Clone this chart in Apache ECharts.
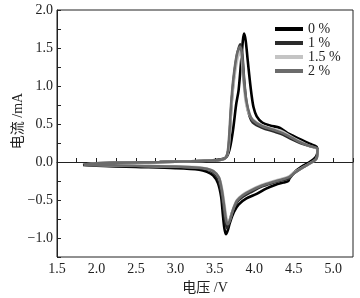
<!DOCTYPE html>
<html>
<head>
<meta charset="utf-8">
<script src="https://cdn.jsdelivr.net/npm/echarts@6/dist/echarts.min.js"></script>
<style>
  html, body { margin: 0; padding: 0; background: #fff; }
  #chart { width: 360px; height: 298px; }
</style>
</head>
<body>
<div id="chart"></div>
<script>
// 图例名称
const seriesNames = ['0 %', '1 %', '1.5 %', '2 %']
const seriesColors = ['#000000', '#2b2b2b', '#c4c4c4', '#6b6b6b']

// 循环伏安曲线 [电压 V, 电流 mA]，先正扫再回扫
const loop0 = [
  [1.83, -0.04], [1.95, -0.02], [2.3, -0.01], [2.8, 0.0], [3.2, 0.01], [3.45, 0.02], [3.58, 0.035],
  [3.65, 0.07], [3.69, 0.18], [3.73, 0.42], [3.77, 0.76], [3.8, 0.94], [3.83, 1.29], [3.855, 1.6],
  [3.87, 1.69], [3.89, 1.6], [3.915, 1.35], [3.94, 1.1], [3.965, 0.88], [3.99, 0.72], [4.03, 0.6],
  [4.1, 0.52], [4.2, 0.48], [4.32, 0.45], [4.42, 0.38], [4.5, 0.34], [4.6, 0.29], [4.7, 0.24],
  [4.79, 0.2], [4.8, 0.14],
  [4.78, 0.07], [4.7, 0.0], [4.6, -0.06], [4.5, -0.14], [4.45, -0.2], [4.43, -0.25], [4.37, -0.27],
  [4.27, -0.3], [4.15, -0.35], [4.03, -0.42], [3.9, -0.48], [3.8, -0.56], [3.74, -0.66], [3.69, -0.8],
  [3.66, -0.91], [3.64, -0.95], [3.62, -0.87], [3.6, -0.68], [3.58, -0.46], [3.54, -0.28], [3.48, -0.18],
  [3.4, -0.13], [3.3, -0.1], [3.0, -0.08], [2.5, -0.065], [2.0, -0.05], [1.83, -0.04]
]
const loop1 = [
  [1.84, -0.035], [1.95, -0.02], [2.3, -0.01], [2.8, 0.0], [3.2, 0.01], [3.45, 0.02], [3.58, 0.03],
  [3.64, 0.06], [3.67, 0.15], [3.69, 0.4], [3.71, 0.75], [3.74, 1.1], [3.78, 1.4], [3.82, 1.55],
  [3.845, 1.45], [3.87, 1.1], [3.9, 0.78], [3.94, 0.6], [3.98, 0.52], [4.1, 0.45], [4.25, 0.4],
  [4.36, 0.36], [4.47, 0.3], [4.58, 0.25], [4.7, 0.21], [4.8, 0.17],
  [4.79, 0.06], [4.7, -0.02], [4.6, -0.08], [4.5, -0.15], [4.44, -0.22], [4.35, -0.24], [4.25, -0.27],
  [4.1, -0.32], [3.95, -0.4], [3.85, -0.46], [3.78, -0.53], [3.72, -0.66], [3.68, -0.8], [3.655, -0.87],
  [3.635, -0.8], [3.61, -0.6], [3.58, -0.38], [3.54, -0.22], [3.48, -0.14], [3.4, -0.1], [3.3, -0.08],
  [3.0, -0.065], [2.5, -0.055], [2.0, -0.045], [1.84, -0.035]
]
const loop15 = [
  [1.84, -0.035], [1.95, -0.02], [2.3, -0.01], [2.8, 0.0], [3.2, 0.01], [3.45, 0.02], [3.58, 0.03],
  [3.64, 0.06], [3.67, 0.15], [3.69, 0.4], [3.71, 0.72], [3.74, 1.05], [3.78, 1.33], [3.815, 1.45],
  [3.84, 1.35], [3.865, 1.05], [3.89, 0.8], [3.93, 0.64], [3.98, 0.56], [4.1, 0.48], [4.25, 0.43],
  [4.36, 0.4], [4.47, 0.33], [4.58, 0.27], [4.7, 0.21], [4.8, 0.16],
  [4.79, 0.05], [4.7, -0.02], [4.6, -0.08], [4.5, -0.14], [4.44, -0.19], [4.35, -0.22], [4.25, -0.25],
  [4.1, -0.3], [3.95, -0.37], [3.85, -0.43], [3.78, -0.5], [3.73, -0.62], [3.69, -0.75], [3.665, -0.8],
  [3.645, -0.73], [3.62, -0.55], [3.59, -0.35], [3.55, -0.2], [3.48, -0.12], [3.4, -0.09], [3.3, -0.07],
  [3.0, -0.06], [2.5, -0.05], [2.0, -0.04], [1.84, -0.035]
]
const loop2 = [
  [1.84, -0.035], [1.95, -0.02], [2.3, -0.01], [2.8, 0.0], [3.2, 0.01], [3.45, 0.02], [3.58, 0.03],
  [3.64, 0.06], [3.665, 0.15], [3.685, 0.4], [3.705, 0.75], [3.735, 1.1], [3.78, 1.42], [3.82, 1.52],
  [3.845, 1.4], [3.87, 1.05], [3.9, 0.8], [3.94, 0.63], [3.98, 0.55], [4.1, 0.47], [4.25, 0.42],
  [4.36, 0.38], [4.47, 0.32], [4.58, 0.26], [4.7, 0.21], [4.8, 0.17],
  [4.79, 0.05], [4.7, -0.02], [4.6, -0.08], [4.5, -0.15], [4.44, -0.2], [4.35, -0.23], [4.25, -0.26],
  [4.1, -0.31], [3.95, -0.38], [3.85, -0.44], [3.78, -0.51], [3.73, -0.63], [3.69, -0.77], [3.66, -0.82],
  [3.64, -0.75], [3.615, -0.56], [3.585, -0.35], [3.55, -0.2], [3.48, -0.12], [3.4, -0.09], [3.3, -0.075],
  [3.0, -0.06], [2.5, -0.05], [2.0, -0.04], [1.84, -0.035]
]
const loops = [loop0, loop1, loop15, loop2]

const serif = '"Liberation Serif", "Noto Sans CJK SC", serif'

// 只在 0.5 的整数倍处显示刻度标签
function tickLabel(v) {
  const k = Math.round(v * 4)
  if (k % 2 !== 0) return ''
  return v.toFixed(1).replace('-', '\u2212')
}

const axisCommon = {
  type: 'value',
  interval: 0.25,
  splitLine: { show: false },
  axisLine: { show: true, lineStyle: { color: '#222', width: 1 } },
  axisTick: { show: true, inside: true, length: 4, lineStyle: { color: '#222' } },
  axisLabel: { color: '#222', fontFamily: serif, fontSize: 14, formatter: tickLabel },
  nameLocation: 'middle',
  nameMoveOverlap: false,
  nameTextStyle: { color: '#222', fontFamily: serif, fontSize: 14 },
}

const chart = echarts.init(document.getElementById('chart'))
chart.setOption({
  animation: false,
  backgroundColor: '#fff',
  grid: {
    left: 57, top: 10, right: 7, bottom: 41,
    containLabel: false, outerBoundsMode: 'none',
    show: true, borderColor: '#222', borderWidth: 1,
  },
  xAxis: Object.assign({}, axisCommon, {
    min: 1.5, max: 5.25,
    name: '电压 /V', nameGap: 24,
    axisLabel: Object.assign({}, axisCommon.axisLabel, { margin: 5 }),
  }),
  yAxis: Object.assign({}, axisCommon, {
    min: -1.25, max: 2.0,
    name: '电流 /mA', nameGap: 32,
    nameTextStyle: Object.assign({}, axisCommon.nameTextStyle, { padding: [0, 0, 0, 25] }),
    axisLabel: Object.assign({}, axisCommon.axisLabel, { margin: 4 }),
  }),
  legend: {
    orient: 'vertical',
    left: 270, top: 17,
    itemWidth: 28, itemHeight: 4, itemGap: 0,
    icon: 'rect',
    textStyle: { color: '#222', fontFamily: serif, fontSize: 14, lineHeight: 14 },
    data: seriesNames,
  },
  series: loops.map((d, i) => ({
    name: seriesNames[i],
    type: 'line',
    data: d,
    showSymbol: false,
    smooth: 0.3,
    color: seriesColors[i],
    lineStyle: { color: seriesColors[i], width: 2.6 },
  })),
})
</script>
</body>
</html>
